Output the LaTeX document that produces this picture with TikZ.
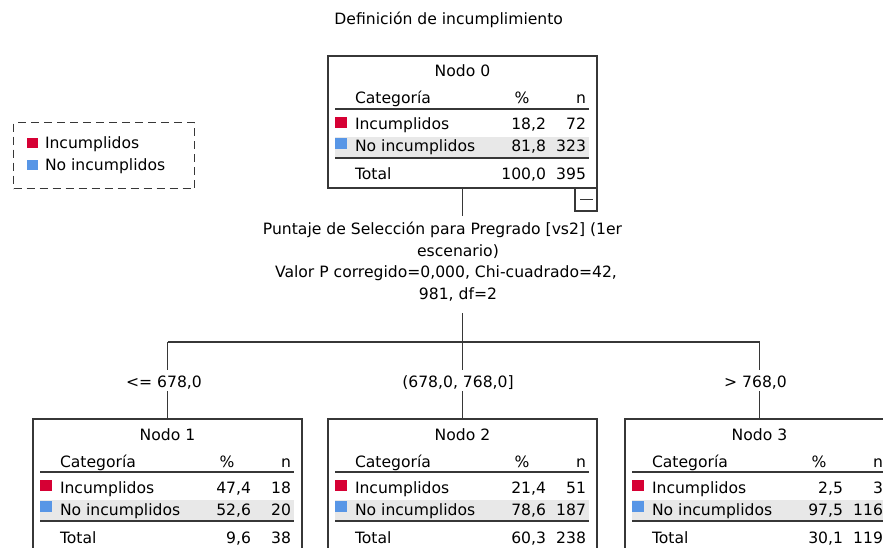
\documentclass[tikz,border=0pt]{standalone}
\usepackage{fontspec}
\setmainfont{DejaVu Sans}
\definecolor{incred}{RGB}{214,0,52}
\definecolor{incblue}{RGB}{88,150,230}
\definecolor{rowgray}{RGB}{232,232,232}
\definecolor{lingray}{RGB}{55,55,55}
\tikzset{
  lbl/.style={inner sep=0pt, outer sep=0pt, font=\fontsize{15.6}{18}\selectfont},
  treebox/.style={draw=lingray, line width=1.3pt, minimum width=269pt, minimum height=132pt, inner sep=0pt, outer sep=0pt, anchor=north west},
  hrule/.style={draw=lingray, line width=1.5pt},
  conn/.style={draw=lingray, line width=1.3pt},
  swatch/.style={inner sep=0pt, outer sep=0pt, minimum width=12pt, minimum height=11pt, anchor=north west},
  legswatch/.style={inner sep=0pt, outer sep=0pt, minimum width=11pt, minimum height=10pt, anchor=north west},
}
% #1 name, #2 L,T, #3 title, #4 p1, #5 n1, #6 p2, #7 n2, #8 pt, #9 nt
\newcommand\drawtreenode[9]{%
  \begin{scope}[shift={(#2)}]
    \node[treebox] (#1) at (0,0) {};
    \fill[rowgray] (7,81) rectangle (261,101);
    \draw[hrule] (7,53) -- (261,53);
    \draw[hrule] (7,102) -- (261,102);
    \node[lbl, anchor=base] (#1-title) at (134.5,21) {#3};
    \node[lbl, anchor=base west] (#1-cat) at (27,48) {Categoría};
    \node[lbl, anchor=base] (#1-pc) at (194,48) {\%};
    \node[lbl, anchor=base east] (#1-nn) at (258,48) {n};
    \node[swatch, fill=incred] (#1-sr) at (7,61) {};
    \node[lbl, anchor=base west] (#1-r1) at (27,74) {Incumplidos};
    \node[lbl, anchor=base east] (#1-p1) at (218,74) {#4};
    \node[lbl, anchor=base east] (#1-n1) at (258,74) {#5};
    \node[swatch, fill=incblue] (#1-sb) at (7,82) {};
    \node[lbl, anchor=base west] (#1-r2) at (27,96) {No incumplidos};
    \node[lbl, anchor=base east] (#1-p2) at (218,96) {#6};
    \node[lbl, anchor=base east] (#1-n2) at (258,96) {#7};
    \node[lbl, anchor=base west] (#1-r3) at (27,124) {Total};
    \node[lbl, anchor=base east] (#1-p3) at (218,124) {#8};
    \node[lbl, anchor=base east] (#1-n3) at (258,124) {#9};
  \end{scope}}
\begin{document}
\begin{tikzpicture}[x=1pt,y=-1pt]
\clip (0,0) rectangle (883,548);
\fill[white] (0,0) rectangle (883,548);

% title
\node[lbl, anchor=base] (title) at (448.7,25) {Definición de incumplimiento};

% legend
\node[draw=lingray, dash pattern=on 8pt off 5pt, line width=1.2pt, minimum width=181pt, minimum height=66pt, inner sep=0pt, anchor=north west] (leg) at (13,122) {};
\node[legswatch, fill=incred] (legr) at (27,138) {};
\node[lbl, anchor=base west] (legrt) at (45,149) {Incumplidos};
\node[legswatch, fill=incblue] (legb) at (27,160) {};
\node[lbl, anchor=base west] (legbt) at (45,171) {No incumplidos};

% tree nodes
\drawtreenode{n0}{328,56}{Nodo 0}{18,2}{72}{81,8}{323}{100,0}{395}
\drawtreenode{n1}{33,419}{Nodo 1}{47,4}{18}{52,6}{20}{9,6}{38}
\drawtreenode{n2}{328,419}{Nodo 2}{21,4}{51}{78,6}{187}{60,3}{238}
\drawtreenode{n3}{625,419}{Nodo 3}{2,5}{3}{97,5}{116}{30,1}{119}

% collapse box
\node[draw=lingray, line width=1.3pt, minimum width=22pt, minimum height=23pt, inner sep=0pt, outer sep=0pt, anchor=north east] (mbox) at (n0.south east) {};
\draw[conn] (mbox.west) ++(5,0) -- ++(12.5,0);

% split text
\node[lbl, anchor=base] (sp1) at (442.5,234) {Puntaje de Selección para Pregrado [vs2] (1er};
\node[lbl, anchor=base] (sp2) at (458,256) {escenario)};
\node[lbl, anchor=base] (sp3) at (446,277) {Valor P corregido=0,000, Chi-cuadrado=42,};
\node[lbl, anchor=base] (sp4) at (458,299) {981, df=2};

% connectors
\coordinate (sptop) at (462.5,216);
\coordinate (spbot) at (462.5,313);
\coordinate (jc) at (462.5,342);
\coordinate (jl) at (167.5,342);
\coordinate (jr) at (759.5,342);
\draw[conn] (n0.south) -- (sptop);
\draw[conn] (spbot) -- (jc);
\draw[conn] (jl) -- (jr);

% branch labels
\node[lbl, anchor=base] (b1) at (164,387) {<= 678,0};
\node[lbl, anchor=base] (b2) at (458,387) {(678,0, 768,0]};
\node[lbl, anchor=base] (b3) at (755.5,387) {> 768,0};

\coordinate (b1a) at (167.5,370);
\coordinate (b1b) at (167.5,391);
\coordinate (b2a) at (462.5,370);
\coordinate (b2b) at (462.5,391);
\coordinate (b3a) at (759.5,370);
\coordinate (b3b) at (759.5,391);
\draw[conn] (jl) -- (b1a);
\draw[conn] (b1b) -- (n1.north);
\draw[conn] (jc) -- (b2a);
\draw[conn] (b2b) -- (n2.north);
\draw[conn] (jr) -- (b3a);
\draw[conn] (b3b) -- (n3.north);
\end{tikzpicture}
\end{document}
